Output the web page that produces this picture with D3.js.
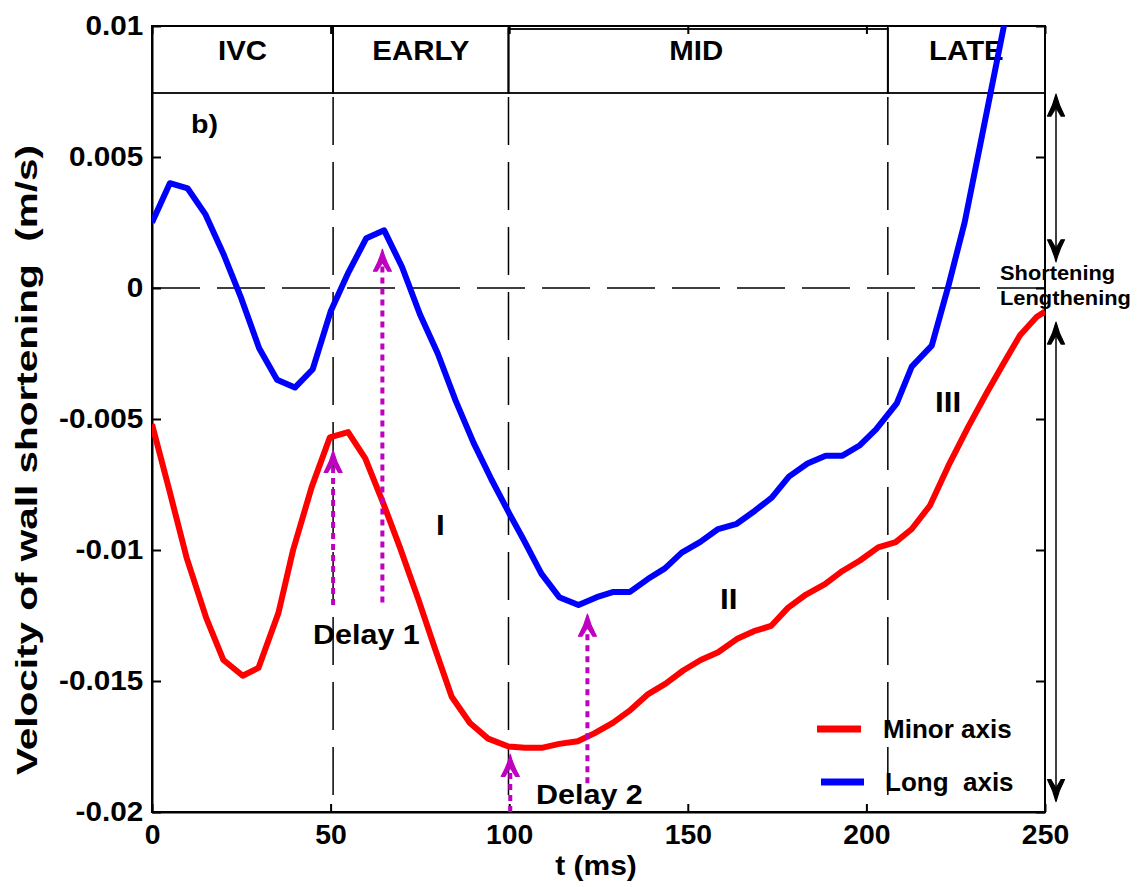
<!DOCTYPE html>
<html>
<head>
<meta charset="utf-8">
<script src="https://cdn.jsdelivr.net/npm/d3@7"></script>
<style>
  html, body { margin: 0; padding: 0; background: #fff; }
  svg text { font-family: "Liberation Sans", Arial, sans-serif; font-weight: bold; fill: #000; }
</style>
</head>
<body>
<script>
// Wall-shortening velocity over one contraction, minor vs long axis (m/s vs ms)
const tMinor = [0, 5, 9.7, 15.2, 20, 25.4, 29.8, 35.4, 39.5, 44.7, 49.8, 54.9, 59.7, 64.7, 69.4,
  74.6, 79.3, 83.9, 89, 94.1, 99.8, 104.4, 109.1, 114, 119.2, 123.8, 129, 134, 138.9, 143.8,
  148.7, 153.6, 158.5, 163.7, 168.5, 173.3, 178.1, 183.1, 188.4, 193.3, 198.2, 203.3, 208.2,
  212.7, 217.8, 222.9, 228.5, 233.7, 238.3, 243, 247.7, 250];
const vMinor = [-0.0052, -0.0078, -0.0103, -0.0126, -0.0142, -0.0148, -0.0145, -0.0124, -0.0100,
  -0.0076, -0.0057, -0.0055, -0.0065, -0.0082, -0.0099, -0.0119, -0.0138, -0.0156, -0.0166,
  -0.0172, -0.0175, -0.01755, -0.01755, -0.0174, -0.0173, -0.0170, -0.0166, -0.0161, -0.0155,
  -0.0151, -0.0146, -0.0142, -0.0139, -0.0134, -0.0131, -0.0129, -0.0122, -0.0117, -0.0113,
  -0.0108, -0.0104, -0.0099, -0.0097, -0.0092, -0.0083, -0.0068, -0.0053, -0.0040, -0.0029,
  -0.0018, -0.0011, -0.0009];

const tLong = [0, 5, 10, 15, 20, 25, 30, 35, 40, 45, 50, 55, 60, 65, 70, 75, 80, 85, 90, 95,
  100, 104, 109, 114, 119.4, 124.5, 129.2, 133.8, 138.9, 143.6, 148.3, 153.4, 158.5, 163.7,
  168.8, 173.5, 178.3, 183.5, 188.6, 193.3, 198.2, 202.7, 208.5, 212.7, 218.3, 223, 227.5,
  232.5, 238.5, 241];
const vLong = [0.0025, 0.0040, 0.0038, 0.0028, 0.0013, -0.0004, -0.0023, -0.0035, -0.0038,
  -0.0031, -0.0009, 0.0006, 0.0019, 0.0022, 0.0008, -0.0010, -0.0025, -0.0043, -0.0059,
  -0.0073, -0.0086, -0.0096, -0.0109, -0.0118, -0.0121, -0.0118, -0.0116, -0.0116, -0.0111,
  -0.0107, -0.0101, -0.0097, -0.0092, -0.0090, -0.0085, -0.0080, -0.0072, -0.0067, -0.0064,
  -0.0064, -0.0060, -0.0054, -0.0044, -0.0030, -0.0022, 0.0001, 0.0025, 0.0059, 0.0100, 0.0118];

const xTicks = [0, 50, 100, 150, 200, 250];
const yTicks = [0.01, 0.005, 0, -0.005, -0.01, -0.015, -0.02];
const yTickLabels = ["0.01", "0.005", "0", "-0.005", "-0.01", "-0.015", "-0.02"];

// Cardiac phases and their boundaries (ms)
const phases = ["IVC", "EARLY", "MID", "LATE"];
const phaseBounds = [0, 50.7, 99.8, 206, 250];

// Delay markers: time, start value, tip value
const delayT = [50.7, 64.5, 100.3, 121.9];
const delayFrom = [-0.0121, -0.0120, -0.0200, -0.0189];
const delayTo = [-0.0062, 0.00148, -0.0178, -0.01245];
const delayLabels = ["Delay 1", "Delay 2"];

const regionLabels = ["I", "II", "III"];
const seriesNames = ["Minor axis", "Long  axis"];
const seriesColors = ["#ff0000", "#0000ff"];
const markColor = "#c000c0";

const W = 1146, H = 887;
const x = d3.scaleLinear().domain([0, 250]).range([152, 1045]);
const y = d3.scaleLinear().domain([-0.02, 0.01]).range([812, 26]);

const svg = d3.select("body").append("svg").attr("width", W).attr("height", H);

// Text helper: bold label, optionally widened
function label(g, txt, px, py, size, sx = 1, anchor = "start") {
  return g.append("text")
    .attr("transform", `translate(${px},${py}) scale(${sx},1)`)
    .attr("text-anchor", anchor).attr("font-size", size)
    .attr("xml:space", "preserve").text(txt);
}

svg.append("defs").append("clipPath").attr("id", "plotclip")
  .append("rect").attr("x", x(0)).attr("y", y(0.01)).attr("width", x(250) - x(0)).attr("height", y(-0.02) - y(0.01));

// Dashed reference lines: zero line and phase boundaries
svg.append("line").attr("x1", x(0)).attr("x2", x(250)).attr("y1", y(0)).attr("y2", y(0))
  .attr("stroke", "#000").attr("stroke-width", 1.5).attr("stroke-dasharray", "48,17");
phaseBounds.slice(1, 4).forEach(b => {
  svg.append("line").attr("x1", x(b)).attr("x2", x(b)).attr("y1", 97).attr("y2", y(-0.02))
    .attr("stroke", "#000").attr("stroke-width", 1.5).attr("stroke-dasharray", "48,17");
});

// Phase header boxes
const hdr = svg.append("g");
phases.forEach((p, i) => {
  const x0 = x(phaseBounds[i]), x1 = x(phaseBounds[i + 1]);
  const top = p === "MID" ? 29 : 26;
  hdr.append("rect").attr("x", x0).attr("y", top).attr("width", x1 - x0).attr("height", 93 - top)
    .attr("fill", "none").attr("stroke", "#000").attr("stroke-width", 1.8);
  label(hdr, p, (x0 + x1) / 2 + (p === "MID" ? -2 : 0), 60, 27, 1.09, "middle");
});

// Axes frame
svg.append("rect").attr("x", x(0)).attr("y", y(0.01)).attr("width", x(250) - x(0)).attr("height", y(-0.02) - y(0.01))
  .attr("fill", "none").attr("stroke", "#000").attr("stroke-width", 2);

const yAxis = d3.axisLeft(y).tickValues(yTicks).tickSizeInner(-9).tickSizeOuter(0)
  .tickPadding(8).tickFormat((d, i) => yTickLabels[i]);
const gy = svg.append("g").attr("transform", `translate(${x(0)},0)`).call(yAxis);
gy.select(".domain").attr("stroke-width", 2);
gy.selectAll(".tick line").attr("stroke-width", 2);
gy.selectAll(".tick text").attr("font-size", 27).attr("font-family", "Liberation Sans, Arial, sans-serif")
  .attr("font-weight", "bold").attr("dy", "0.3em").attr("transform", "scale(1.1,1)");

const gyR = svg.append("g").attr("transform", `translate(${x(250)},0)`)
  .call(d3.axisRight(y).tickValues(yTicks).tickSizeInner(-9).tickSizeOuter(0).tickFormat(""));
gyR.selectAll(".tick line").attr("stroke-width", 2);

const xAxis = d3.axisBottom(x).tickValues(xTicks).tickSizeInner(-8).tickSizeOuter(0).tickPadding(13)
  .tickFormat(d3.format("d"));
const gx = svg.append("g").attr("transform", `translate(0,${y(-0.02)})`).call(xAxis);
gx.select(".domain").attr("stroke-width", 2);
gx.selectAll(".tick line").attr("stroke-width", 2);
gx.selectAll(".tick text").attr("font-size", 27).attr("font-family", "Liberation Sans, Arial, sans-serif")
  .attr("font-weight", "bold").attr("transform", "scale(1.05,1)");

const gxT = svg.append("g").attr("transform", `translate(0,${y(0.01)})`)
  .call(d3.axisTop(x).tickValues(xTicks).tickSizeInner(-8).tickSizeOuter(0).tickFormat(""));
gxT.selectAll(".tick line").attr("stroke-width", 2);

// Axis titles
label(svg, "t (ms)", 596, 875, 27, 1.11, "middle");
svg.append("text").attr("transform", "translate(37,460) rotate(-90)").attr("text-anchor", "middle")
  .attr("font-size", 30).attr("xml:space", "preserve")
  .attr("textLength", 630).attr("lengthAdjust", "spacingAndGlyphs")
  .text("Velocity of wall shortening  (m/s)");
label(svg, "b)", 191, 133, 26, 1.1);

// Data lines
const line = d3.line().x(d => x(d[0])).y(d => y(d[1]));
const plot = svg.append("g").attr("clip-path", "url(#plotclip)");
plot.append("path").datum(tMinor.map((t, i) => [t, vMinor[i]]))
  .attr("d", line).attr("fill", "none").attr("stroke", seriesColors[0]).attr("stroke-width", 6)
  .attr("stroke-linejoin", "round");
plot.append("path").datum(tLong.map((t, i) => [t, vLong[i]]))
  .attr("d", line).attr("fill", "none").attr("stroke", seriesColors[1]).attr("stroke-width", 6)
  .attr("stroke-linejoin", "round");

// Arrowhead with swept-back barbs, tip at (cx,cy); dir 1 points up, -1 points down
function arrowHead(g, cx, cy, dir, color, w, h) {
  const s = dir;
  const p = `M0,0 Q${w * 0.16},${s * h * 0.5} ${w * 0.5},${s * h}
    L${w * 0.3},${s * h} Q${w * 0.1},${s * h * 0.72} 0,${s * h * 0.62}
    Q${-w * 0.1},${s * h * 0.72} ${-w * 0.3},${s * h}
    L${-w * 0.5},${s * h} Q${-w * 0.16},${s * h * 0.5} 0,0 Z`;
  g.append("path").attr("d", p).attr("transform", `translate(${cx},${cy})`)
    .attr("fill", color).attr("stroke", color).attr("stroke-width", 1.2).attr("stroke-linejoin", "round");
}

// Delay markers
const dg = svg.append("g");
delayT.forEach((t, i) => {
  dg.append("line").attr("x1", x(t)).attr("x2", x(t)).attr("y1", y(delayFrom[i])).attr("y2", y(delayTo[i]) + 12)
    .attr("stroke", markColor).attr("stroke-width", 4).attr("stroke-dasharray", "6,5");
  arrowHead(dg, x(t), y(delayTo[i]), 1, markColor, 18, 22);
});
label(svg, delayLabels[0], 313, 644, 27, 1.13);
label(svg, delayLabels[1], 536, 804, 27, 1.13);

// Region labels
label(svg, regionLabels[0], 436, 535, 30, 1.05);
label(svg, regionLabels[1], 720, 609, 30, 1.05);
label(svg, regionLabels[2], 935, 412, 30, 1.05);

// Shortening / lengthening range arrows beside the plot
const ax = 1056;
const ra = svg.append("g");
[[0.0074, 0.0010], [-0.0013, -0.0196]].forEach(([a, b]) => {
  ra.append("line").attr("x1", ax).attr("x2", ax).attr("y1", y(a) + 10).attr("y2", y(b) - 10)
    .attr("stroke", "#000").attr("stroke-width", 1.5);
  arrowHead(ra, ax, y(a), 1, "#000", 17, 22);
  arrowHead(ra, ax, y(b), -1, "#000", 17, 22);
});
label(svg, "Shortening", 1000, 280, 21, 1.04);
label(svg, "Lengthening", 1000, 305, 21, 1.04);

// Legend
const lg = svg.append("g");
[[729, 817, 861], [782, 821, 864]].forEach(([ly, lx0, lx1], i) => {
  lg.append("line").attr("x1", lx0).attr("x2", lx1).attr("y1", ly).attr("y2", ly)
    .attr("stroke", seriesColors[i]).attr("stroke-width", 7);
  label(lg, seriesNames[i], 883 + i * 2, ly + 9, 26, 1.0);
});
</script>
</body>
</html>
